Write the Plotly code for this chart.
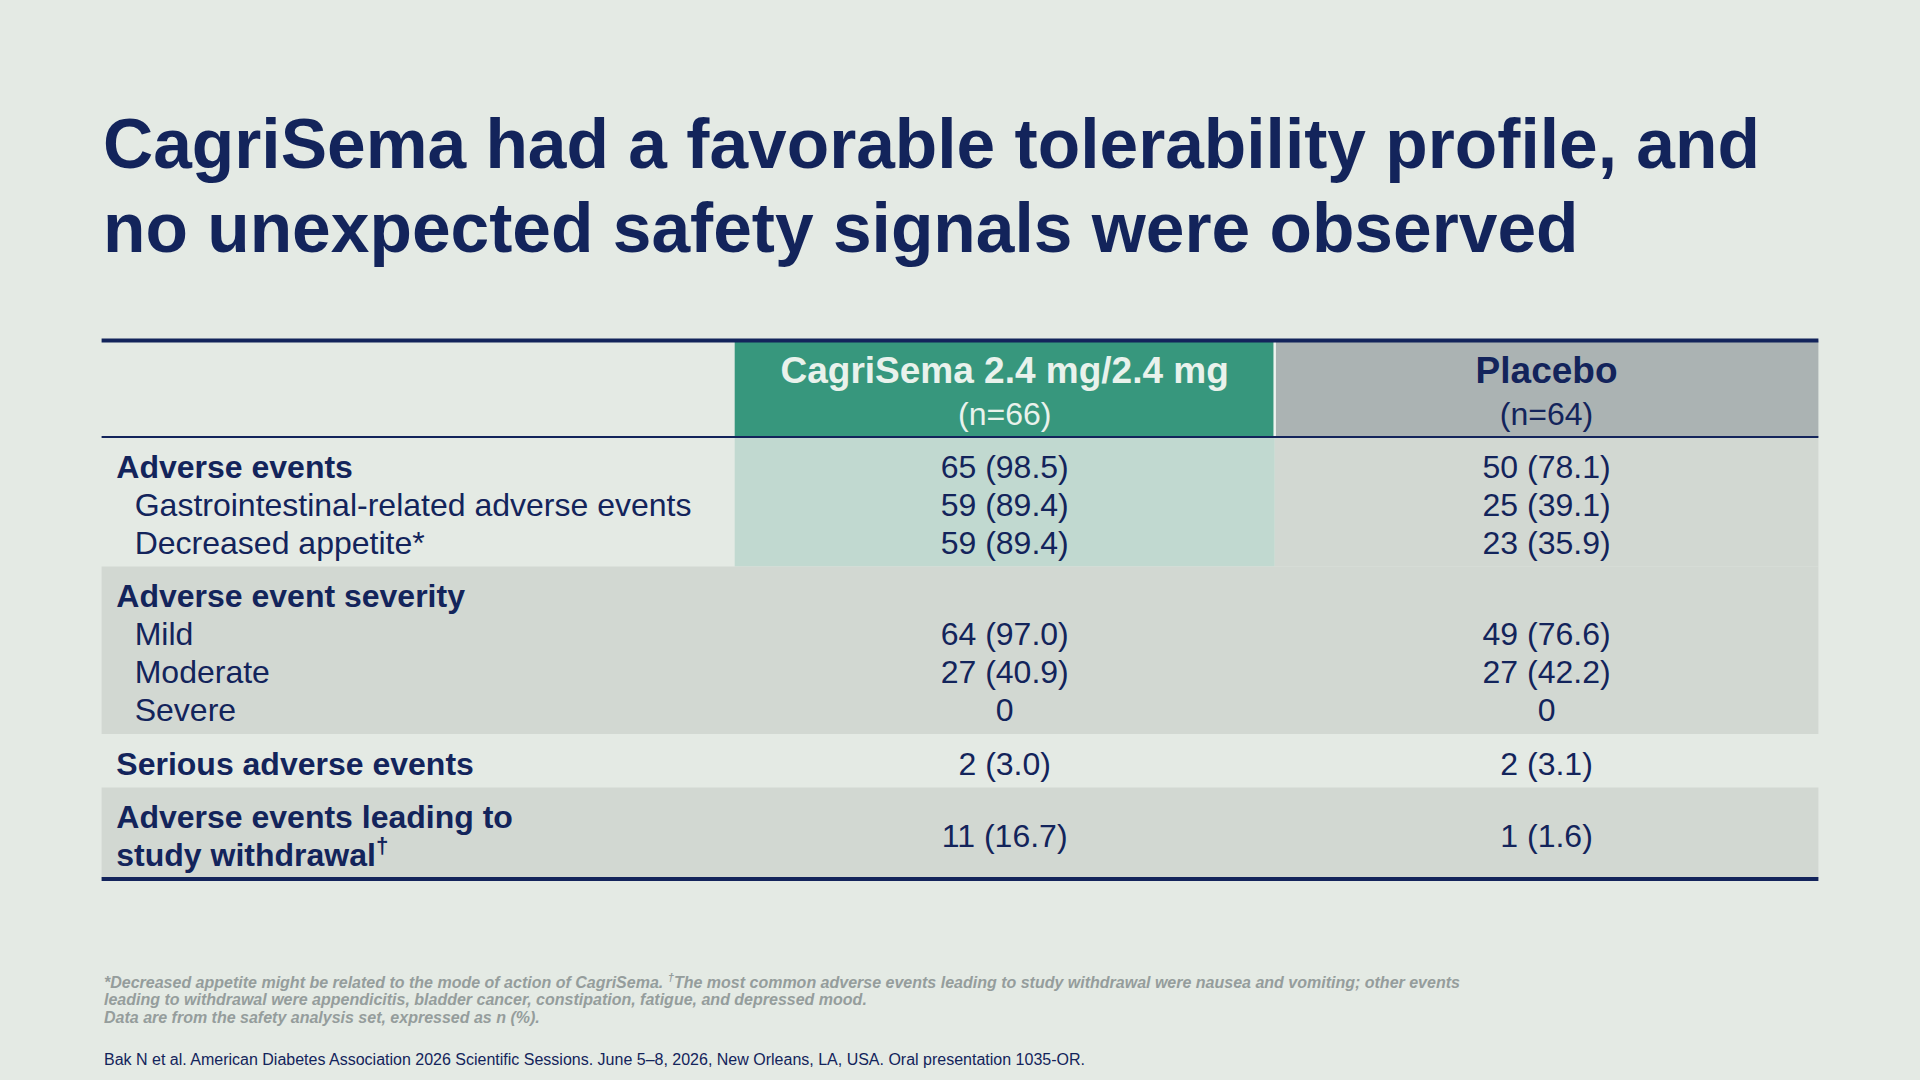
import plotly.graph_objects as go

# ---- data ----
title_lines = ["CagriSema had a favorable tolerability profile, and",
               "no unexpected safety signals were observed"]

col_headers = ["CagriSema 2.4 mg/2.4 mg", "Placebo"]
col_n = ["(n=66)", "(n=64)"]

# one entry per text line of the first column
line_labels = ["Adverse events", "Gastrointestinal-related adverse events", "Decreased appetite*",
               "Adverse event severity", "Mild", "Moderate", "Severe",
               "Serious adverse events",
               "Adverse events leading to", "study withdrawal<sup>†</sup>"]
line_section = [0, 0, 0, 1, 1, 1, 1, 2, 3, 3]
line_bold = [1, 0, 0, 1, 0, 0, 0, 1, 1, 1]
line_item = [0, 1, 2, 3, 4, 5, 6, 7, 8, 8]

# one entry per item (row of values)
cagri_values = ["65 (98.5)", "59 (89.4)", "59 (89.4)", "", "64 (97.0)", "27 (40.9)", "0", "2 (3.0)", "11 (16.7)"]
placebo_values = ["50 (78.1)", "25 (39.1)", "23 (35.9)", "", "49 (76.6)", "27 (42.2)", "0", "2 (3.1)", "1 (1.6)"]

footnotes = ["<i><b>*Decreased appetite might be related to the mode of action of CagriSema. "
             "<sup>†</sup>The most common adverse events leading to study withdrawal were nausea and vomiting; other events</b></i>",
             "<i><b>leading to withdrawal were appendicitis, bladder cancer, constipation, fatigue, and depressed mood.</b></i>",
             "<i><b>Data are from the safety analysis set, expressed as n (%).</b></i>"]
citation = "Bak N et al. American Diabetes Association 2026 Scientific Sessions. June 5–8, 2026, New Orleans, LA, USA. Oral presentation 1035-OR."

# ---- style / layout ----
W, H = 1920, 1080
BG = "#E4EAE4"
NAVY = "#13245B"
GREEN = "#37977D"
GREEN_LIGHT = "#C1D9D0"
GREY_HEAD = "#ABB3B3"
GREY_BAND = "#D2D8D2"
FOOT_GREY = "#959D9C"
FONT = "Liberation Sans, Arial, sans-serif"
BODY_SIZE = 32
TXT_DY = 4  # nudge so plotly's text box centre matches the glyph centre

X_LEFT, X_COL1, X_COL2, X_RIGHT = 101.6, 734.7, 1274.7, 1818.4
X_LABEL, X_INDENT = 116.3, 134.7
Y_TOP = 340.4
HEAD_H = 96.6
LH = 38
PAD_TOP, PAD_BOT = 9.5, 6
band_fill = [None, GREY_BAND, None, GREY_BAND]

# vertical positions derived from the row structure
y_lines = []
section_span = []
cursor = Y_TOP + HEAD_H
for s in sorted(set(line_section)):
    n = line_section.count(s)
    start = cursor
    for i in range(n):
        y_lines.append(cursor + PAD_TOP + LH / 2 + i * LH)
    cursor += PAD_TOP + n * LH + PAD_BOT
    section_span.append((start, cursor))
Y_BOTTOM = cursor

y_items = []
for it in range(len(cagri_values)):
    ys = [y for y, k in zip(y_lines, line_item) if k == it]
    y_items.append(sum(ys) / len(ys))

fig = go.Figure()

shapes = []
# header cells
shapes.append(dict(type="rect", x0=X_COL1, x1=X_COL2, y0=Y_TOP, y1=Y_TOP + HEAD_H,
                   fillcolor=GREEN, line_width=0, layer="below"))
shapes.append(dict(type="rect", x0=X_COL2, x1=X_RIGHT, y0=Y_TOP, y1=Y_TOP + HEAD_H,
                   fillcolor=GREY_HEAD, line_width=0, layer="below"))
# section bands
for s, (y0, y1) in enumerate(section_span):
    if band_fill[s]:
        shapes.append(dict(type="rect", x0=X_LEFT, x1=X_RIGHT, y0=y0, y1=y1,
                           fillcolor=band_fill[s], line_width=0, layer="below"))
    elif s == 0:
        shapes.append(dict(type="rect", x0=X_COL1, x1=X_COL2, y0=y0, y1=y1,
                           fillcolor=GREEN_LIGHT, line_width=0, layer="below"))
        shapes.append(dict(type="rect", x0=X_COL2, x1=X_RIGHT, y0=y0, y1=y1,
                           fillcolor=GREY_BAND, line_width=0, layer="below"))
# separator in header
shapes.append(dict(type="line", x0=X_COL2, x1=X_COL2, y0=Y_TOP, y1=Y_TOP + HEAD_H,
                   line=dict(color="#EEF3EF", width=2.5)))
# rules
shapes.append(dict(type="line", x0=X_LEFT, x1=X_RIGHT, y0=Y_TOP, y1=Y_TOP, line=dict(color=NAVY, width=4)))
shapes.append(dict(type="line", x0=X_LEFT, x1=X_RIGHT, y0=Y_TOP + HEAD_H, y1=Y_TOP + HEAD_H,
                   line=dict(color=NAVY, width=1.8)))
shapes.append(dict(type="line", x0=X_LEFT, x1=X_RIGHT, y0=Y_BOTTOM, y1=Y_BOTTOM, line=dict(color=NAVY, width=4)))

# first column labels
fig.add_trace(go.Scatter(
    x=[X_LABEL if b else X_INDENT for b in line_bold],
    y=[y + TXT_DY for y in y_lines],
    text=["<b>%s</b>" % t if b else t for t, b in zip(line_labels, line_bold)],
    mode="text", textposition="middle right",
    textfont=dict(family=FONT, size=BODY_SIZE, color=NAVY),
    hoverinfo="skip", showlegend=False))

# value columns
col_x = [(X_COL1 + X_COL2) / 2, (X_COL2 + X_RIGHT) / 2]
for cx, vals in zip(col_x, [cagri_values, placebo_values]):
    keep = [i for i, v in enumerate(vals) if v]
    fig.add_trace(go.Scatter(
        x=[cx] * len(keep), y=[y_items[i] + TXT_DY for i in keep], text=[vals[i] for i in keep],
        mode="text", textposition="middle center",
        textfont=dict(family=FONT, size=BODY_SIZE, color=NAVY),
        hoverinfo="skip", showlegend=False))

# header texts
head_colors = ["#E9F2EC", NAVY]
fig.add_trace(go.Scatter(
    x=col_x, y=[Y_TOP + 29.4 + TXT_DY] * 2, text=["<b>%s</b>" % h for h in col_headers],
    mode="text", textposition="middle center",
    textfont=dict(family=FONT, size=37, color=head_colors),
    hoverinfo="skip", showlegend=False))
fig.add_trace(go.Scatter(
    x=col_x, y=[Y_TOP + 72.3 + TXT_DY] * 2, text=col_n,
    mode="text", textposition="middle center",
    textfont=dict(family=FONT, size=BODY_SIZE, color=head_colors),
    hoverinfo="skip", showlegend=False))

annotations = []
for i, t in enumerate(title_lines):
    annotations.append(dict(x=101, y=143.5 + i * 84.5, xref="x", yref="y", text="<b>%s</b>" % t,
                            showarrow=False, xanchor="left", yanchor="middle",
                            font=dict(family=FONT, size=69.5, color=NAVY)))
for i, t in enumerate(footnotes):
    annotations.append(dict(x=102, y=981 + i * 18.3, xref="x", yref="y", text=t,
                            showarrow=False, xanchor="left", yanchor="middle",
                            font=dict(family=FONT, size=16, color=FOOT_GREY)))
annotations.append(dict(x=102, y=1059, xref="x", yref="y", text=citation,
                        showarrow=False, xanchor="left", yanchor="middle",
                        font=dict(family=FONT, size=16, color=NAVY)))

fig.update_layout(
    width=W, height=H,
    margin=dict(l=0, r=0, t=0, b=0),
    paper_bgcolor=BG, plot_bgcolor=BG,
    xaxis=dict(range=[0, W], visible=False, fixedrange=True),
    yaxis=dict(range=[H, 0], visible=False, fixedrange=True),
    shapes=shapes, annotations=annotations,
)

# page body has a default 8px margin; drop it so the figure fills the window
fig.write_html("out.html", config={"displayModeBar": False},
               post_script="document.body.style.margin='0';document.body.style.overflow='hidden';")
